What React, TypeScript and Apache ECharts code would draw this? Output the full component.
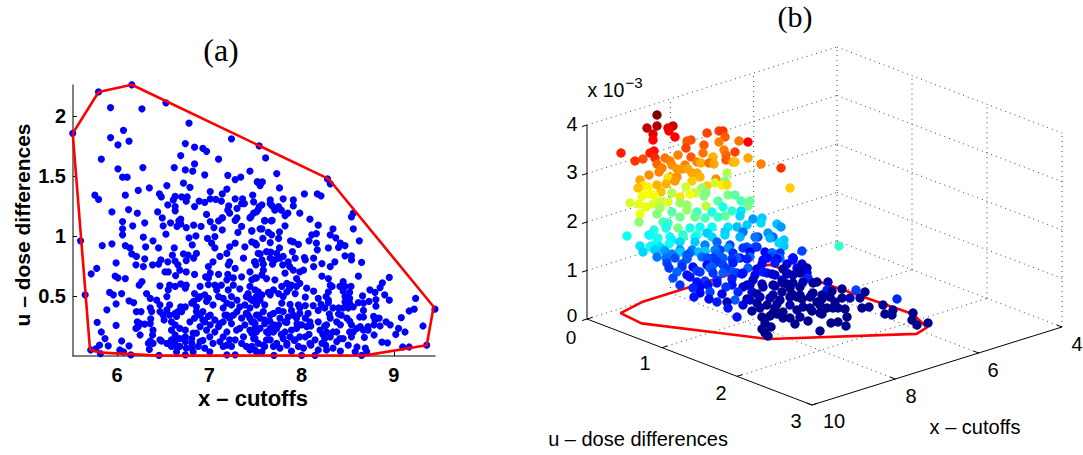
import React, { useEffect, useRef } from "react";
import * as echarts from "echarts";

// Panel (a): x - cutoffs, u - dose differences
const hullA: number[][] = [[5.52,1.855],[5.8,2.2],[6.16,2.26],[8.28,1.48],[8.31,1.46],[9.43,0.41],[9.355,0.09],[8.69,0.005],[7,0.003],[6.46,0.003],[5.83,0.028],[5.707,0.055],[5.52,1.855]];
const scatterUpper: number[][] = [[6.16,2.26],[5.8,2.2],[5.52,1.855],[5.93,2.07],[6.27,2.06],[6.53,2.11],[6.78,1.94],[6.07,1.88],[5.93,1.82],[6.13,1.79],[6.01,1.76],[7.24,1.81],[6.74,1.77],[6.84,1.74],[6.93,1.73],[6.97,1.705],[6.69,1.67],[5.83,1.64],[7.1,1.64],[6.84,1.6],[6.62,1.57],[6.28,1.57],[6.01,1.56],[6.74,1.55],[6.82,1.54],[7.44,1.54],[6.95,1.51],[7.2,1.505],[6.06,1.49],[6.11,1.49],[7.34,1.49],[7.28,1.47],[7.52,1.45],[6.72,1.44],[6.54,1.42],[6.79,1.405],[6.35,1.4],[6.23,1.38],[7.19,1.39],[7.01,1.37],[6.46,1.35],[6.48,1.325],[6.09,1.34],[5.76,1.34],[5.8,1.305],[6.63,1.33],[6.7,1.325],[6.76,1.325],[6.61,1.3],[6.75,1.29],[6.55,1.26],[6.89,1.29],[6.95,1.28],[7.01,1.31],[7.07,1.305],[7.14,1.35],[7.13,1.29],[7.28,1.31],[7.36,1.31],[7.47,1.34],[7.48,1.285],[6.84,1.245],[6.63,1.245],[6.63,1.21],[7.21,1.25],[7.2,1.215],[7.22,1.19],[7.3,1.23],[7.35,1.27],[7.38,1.27],[7.54,1.245],[7.51,1.2],[5.945,1.2],[6.125,1.22],[6.22,1.19],[6.44,1.2],[6.49,1.15],[6.69,1.14],[6.97,1.18],[7.14,1.15],[7.3,1.15],[7.44,1.15],[7.54,1.75],[7.61,1.65],[7.73,1.52],[8.28,1.475],[8.31,1.435],[7.52,1.45],[7.575,1.45],[7.55,1.42],[7.76,1.4],[8.03,1.35],[8.17,1.35],[8.21,1.335],[7.8,1.31],[7.91,1.3],[7.91,1.25],[7.66,1.3],[7.66,1.27],[7.68,1.25],[7.57,1.26],[7.53,1.22],[7.48,1.19],[7.71,1.215],[7.75,1.245],[7.78,1.215],[7.85,1.19],[7.82,1.17],[7.98,1.19],[8.09,1.14],[7.6,1.13],[7.68,1.13],[8.56,1.19],[8.54,1.16],[7.45,1.16]];
const scatterMiddle: number[][] = [[5.605,0.96],[5.84,0.92],[5.945,0.935],[6.06,1.01],[6.06,1.06],[6.06,1.12],[6.17,1.085],[6.3,1.11],[6.5,1.085],[6.53,1.015],[6.58,1.11],[6.67,1.125],[6.65,1.08],[6.69,1.1],[6.75,1.07],[6.83,1.09],[6.91,1.08],[7.05,1.07],[7.01,1.12],[7.1,1.125],[7.14,1.15],[7.14,1.05],[7.28,1.13],[7.35,1.08],[7.31,1.03],[7.46,1.045],[7.55,1.06],[6.285,0.99],[6.39,0.96],[6.31,0.91],[6.45,0.9],[6.09,0.92],[6.14,0.9],[6.16,0.85],[6.21,0.83],[6.855,1],[6.78,0.985],[6.815,0.925],[6.98,0.98],[7.06,0.995],[7.025,0.94],[7.06,0.9],[7.22,0.91],[7.28,0.94],[7.385,0.91],[7.46,0.95],[7.51,0.925],[6.62,0.9],[6.6,0.84],[6.72,0.85],[6.77,0.84],[6.86,0.855],[6.83,0.815],[6.3,0.81],[5.99,0.775],[5.78,0.73],[5.72,0.685],[6.205,0.76],[6.285,0.745],[6.385,0.76],[6.45,0.765],[6.475,0.8],[6.55,0.785],[6.63,0.79],[6.66,0.76],[6.68,0.715],[6.75,0.795],[6.99,0.745],[7.04,0.785],[7.115,0.83],[7.19,0.855],[7.22,0.785],[7.205,0.76],[7.28,0.73],[7.37,0.815],[7.495,0.785],[5.98,0.665],[6.01,0.65],[6.09,0.645],[6.52,0.7],[6.555,0.7],[6.635,0.67],[6.75,0.7],[6.84,0.68],[6.96,0.66],[7.01,0.69],[6.99,0.65],[7.1,0.68],[7.2,0.68],[7.19,0.635],[7.26,0.65],[7.35,0.66],[7.46,0.635],[7.51,0.65],[6.27,0.62],[6.24,0.59],[6.465,0.585],[6.57,0.59],[6.63,0.58],[6.69,0.6],[6.75,0.59],[6.9,0.58],[6.99,0.595],[7.06,0.59],[7.13,0.59],[7.26,0.59],[7.33,0.56],[7.44,0.58],[5.655,0.51],[5.92,0.53],[5.96,0.51],[6.05,0.52],[5.99,0.435],[6.13,0.46],[6.18,0.445],[6.32,0.52],[6.36,0.48],[6.43,0.465],[6.555,0.55],[6.54,0.495],[6.74,0.565],[6.84,0.52],[6.95,0.51],[6.88,0.48],[6.83,0.455],[7.08,0.55],[7.1,0.495],[7.205,0.55],[7.24,0.495],[7.3,0.465],[7.4,0.495],[7.51,0.495],[7.53,0.535],[8.56,1.06],[8.625,0.96],[8.34,1.06],[8.37,0.985],[8.31,1.01],[8.18,1.09],[8.16,1.02],[8.11,1.01],[8.08,0.96],[8.16,0.94],[8.17,0.885],[8.29,0.9],[8.4,0.905],[8.42,0.94],[8.47,0.92],[7.6,1.125],[7.67,1.125],[7.82,1.085],[7.57,1.06],[7.76,1.035],[7.64,1.03],[7.675,1.01],[7.46,1.04],[7.58,0.98],[7.75,0.98],[7.88,0.96],[7.965,0.93],[7.495,0.94],[7.66,0.945],[7.76,0.9],[7.9,0.87],[7.665,0.865],[7.55,0.85],[7.8,0.83],[7.93,0.815],[8.03,0.82],[8.13,0.815],[8.47,0.835],[8.54,0.835],[8.54,0.8],[7.49,0.785],[7.585,0.765],[7.685,0.765],[7.795,0.76],[7.87,0.745],[8.04,0.8],[8.13,0.745],[8.22,0.77],[8.36,0.785],[8.31,0.745],[8.65,0.78],[7.585,0.715],[7.98,0.7],[8.02,0.715],[7.57,0.675],[7.495,0.65],[7.62,0.645],[7.71,0.635],[7.945,0.645],[8.22,0.665],[8.29,0.645],[8.615,0.665],[8.95,0.655],[8.875,0.61],[8.85,0.57],[7.91,0.95],[7.53,0.855],[7.62,0.87],[7.73,0.855],[7.765,0.815],[7.71,0.8],[7.66,0.815],[7.57,0.8],[7.505,0.76],[7.44,0.7],[7.855,0.785],[7.91,0.715],[7.82,0.69]];
const scatterLower: number[][] = [[6.36,0.4],[6.465,0.425],[6.57,0.425],[6.69,0.41],[6.86,0.41],[6.97,0.455],[7.04,0.425],[7.15,0.4],[7.385,0.425],[7.44,0.4],[7.51,0.44],[5.89,0.385],[6.21,0.37],[6.26,0.37],[6.465,0.37],[6.63,0.355],[6.7,0.37],[6.93,0.37],[7.01,0.34],[7.17,0.34],[7.3,0.37],[7.42,0.34],[7.51,0.34],[5.785,0.28],[5.99,0.255],[6.22,0.285],[6.3,0.265],[6.365,0.31],[6.51,0.3],[6.59,0.285],[6.645,0.33],[6.79,0.285],[6.84,0.315],[6.95,0.285],[7.06,0.3],[7.115,0.27],[7.22,0.315],[7.33,0.23],[7.46,0.285],[7.55,0.315],[5.83,0.2],[5.87,0.145],[5.905,0.085],[6.205,0.23],[6.25,0.175],[6.39,0.215],[6.385,0.175],[6.59,0.215],[6.74,0.215],[6.825,0.19],[6.97,0.215],[7.06,0.2],[7.19,0.2],[7.295,0.215],[7.44,0.215],[7.51,0.2],[6.05,0.125],[6.13,0.085],[5.81,0.09],[5.77,0.06],[5.715,0.05],[5.82,0.02],[6.03,0.05],[6.07,0.035],[6.15,0.01],[6.34,0.105],[6.35,0.055],[6.48,0.125],[6.54,0.105],[6.455,0.005],[6.63,0.125],[6.68,0.145],[6.645,0.08],[6.74,0.12],[6.81,0.105],[6.9,0.12],[6.95,0.065],[7.04,0.105],[7.15,0.08],[7.28,0.135],[7.35,0.105],[7.46,0.08],[7.53,0.105],[6.74,0.01],[6.645,0.035],[6.825,0.035],[7.005,0.035],[7.19,0.01],[7.28,0.01],[7.44,0.05],[7.51,0.035],[7.84,0.605],[7.89,0.59],[7.98,0.605],[8.31,0.59],[8.33,0.58],[8.45,0.62],[7.785,0.58],[7.695,0.55],[7.64,0.53],[7.57,0.51],[8.055,0.565],[8.13,0.54],[8.29,0.535],[8.265,0.495],[8.415,0.58],[8.47,0.58],[8.535,0.58],[8.45,0.54],[8.52,0.53],[8.47,0.495],[8.52,0.48],[8.74,0.55],[8.795,0.53],[8.9,0.51],[8.95,0.465],[9.235,0.48],[8.66,0.5],[8.73,0.455],[8.805,0.47],[8.805,0.415],[7.48,0.46],[7.8,0.495],[7.93,0.52],[8.04,0.49],[8.18,0.48],[8.21,0.43],[8.29,0.445],[8.615,0.445],[8.56,0.41],[8.67,0.38],[8.45,0.4],[8.505,0.4],[9.445,0.39],[9.22,0.39],[9.165,0.375],[7.51,0.425],[7.585,0.37],[7.695,0.355],[7.785,0.44],[7.875,0.43],[7.965,0.425],[8.04,0.42],[8.125,0.42],[8.18,0.38],[8.3,0.35],[8.4,0.35],[9.08,0.32],[8.63,0.325],[7.48,0.285],[7.655,0.29],[7.765,0.315],[7.91,0.34],[8.04,0.315],[8.18,0.285],[8.31,0.315],[8.52,0.29],[8.67,0.325],[8.795,0.3],[8.84,0.315],[8.915,0.285],[8.85,0.25],[8.785,0.26],[8.96,0.26],[9.05,0.23],[9.12,0.2],[9.02,0.18],[9.315,0.25],[7.55,0.23],[7.73,0.23],[7.89,0.215],[8.055,0.245],[8.2,0.215],[8.38,0.2],[8.56,0.2],[8.67,0.215],[8.72,0.215],[8.785,0.175],[8.635,0.245],[7.48,0.145],[7.62,0.135],[7.8,0.145],[7.98,0.16],[8.145,0.135],[8.31,0.16],[8.45,0.145],[8.54,0.16],[8.68,0.155],[8.87,0.115],[8.93,0.11],[8.505,0.09],[8.6,0.075],[8.69,0.065],[9.355,0.09],[9.095,0.075],[9.165,0.075],[7.495,0.05],[7.57,0.035],[7.695,0.08],[7.765,0.065],[7.89,0.04],[8.02,0.065],[8.18,0.05],[8.34,0.065],[8.58,0.035],[8.705,0.035],[7.7,0.005],[8,0.005],[8.145,0.005],[8.65,0.005],[7.6,0.3],[7.7,0.26],[7.84,0.28],[7.95,0.27],[8.1,0.25],[8.25,0.25],[8.42,0.26],[7.62,0.2],[7.78,0.18],[7.92,0.13],[8.08,0.18],[8.23,0.18],[8.38,0.12],[7.6,0.08],[7.84,0.09],[8.1,0.09],[8.26,0.09],[8.42,0.04]];
const scatterDense: number[][] = [[6.57,0.34],[6.63,0.26],[6.68,0.23],[6.63,0.175],[6.59,0.135],[6.74,0.16],[6.81,0.145],[6.86,0.19],[6.9,0.245],[6.93,0.3],[6.99,0.33],[6.86,0.37],[6.9,0.34],[7.01,0.26],[7.1,0.245],[7.15,0.285],[7.19,0.34],[7.24,0.27],[7.26,0.34],[7.35,0.315],[7.385,0.26],[7.4,0.355],[7.495,0.27],[7.46,0.19],[7.37,0.16],[7.22,0.135],[7.15,0.16],[7.115,0.12],[7.005,0.16],[6.93,0.13],[6.88,0.08],[6.68,0.08],[6.75,0.065],[6.81,0.065],[6.59,0.08],[6.36,0.125],[6.39,0.105],[6.465,0.135],[7.19,0.09],[7.24,0.08],[7.4,0.08],[7.495,0.145],[6.25,0.27],[6.23,0.245],[6.36,0.27],[6.375,0.37],[6.5,0.34],[6.54,0.385],[6.66,0.37],[6.74,0.41],[6.81,0.44],[6.9,0.495],[6.99,0.48],[7.15,0.48],[7.19,0.44],[7.24,0.425],[7.33,0.41],[7.46,0.465],[7.42,0.52],[7.44,0.315],[7.53,0.34],[7.495,0.23],[7.6,0.27],[7.66,0.23],[7.695,0.2],[7.64,0.19],[7.75,0.26],[7.82,0.285],[7.855,0.325],[7.945,0.315],[7.98,0.355],[8.07,0.355],[8.09,0.285],[8,0.26],[7.945,0.23],[7.82,0.2],[7.875,0.16],[7.93,0.135],[8.04,0.16],[8.09,0.105],[8.22,0.105],[8.27,0.2],[8.34,0.2],[8.27,0.26],[8.38,0.285],[8.43,0.34],[8.49,0.315],[8.54,0.26],[8.6,0.23],[8.52,0.2],[8.415,0.145],[8.25,0.145],[7.66,0.135],[7.73,0.105],[7.585,0.09],[7.84,0.105],[7.965,0.08],[8.27,0.05],[7.55,0.465],[7.6,0.425],[7.66,0.34],[7.75,0.38],[7.8,0.37],[7.89,0.38],[7.98,0.4],[8.25,0.4],[8.34,0.4],[8.4,0.4],[8.29,0.465],[8.47,0.45],[8.52,0.44],[8.67,0.44],[8.78,0.33],[8.72,0.245],[7.87,0.565],[7.945,0.58],[7.84,0.535],[7.75,0.52],[7.66,0.51],[7.495,0.55],[7.44,0.48]];

// Panel (b): view-plane position of each point (across, up) and its height z (x 10^-3)
const cloudHigh: number[][] = [[70,204,4],[60,191,3.75],[70,193,3.8],[86,193,3.7],[81,191,3.6],[82,188,3.55],[66,185,3.6],[66,179,3.5],[88,182,3.5],[34,166,3.4],[48,158,3.3],[56,160,3.2],[63,166,3.4],[67,168,3.45],[68,161,3.35],[70,155,3.1],[120,186,3.25],[132,188,3.25],[136,188,3.3],[138,182,3.15],[132,177,3],[104,179,3.2],[100,178,3.15],[117,174,3.15],[99,171,3.25],[152,178,3.05],[161,177,3.5],[148,167,3.25],[137,169,3],[139,164,3.1],[139,159,3.15],[91,164,3],[104,162,3.15],[116,166,3.05],[126,162,2.8],[161,161,2.85],[146,157,2.85],[148,157,2.75],[174,155,3],[194,151,3.3],[203,131,2.7],[78,161,3.05],[83,158,3],[85,154,2.95],[110,157,3],[114,156,2.8],[122,156,3.05],[127,155,2.85],[98,154,3],[75,151,3],[72,147,3],[90,150,2.9],[95,150,2.9],[101,150,2.85],[110,146,2.85],[105,146,2.85],[62,144,2.95],[140,146,2.2],[83,142,2.85],[90,142,2.95],[113,142,2.8],[53,139,2.85],[81,141,2.6],[88,138,2.9],[105,138,2.7],[129,140,2.95],[138,138,2],[56,133,2.6],[51,131,2.75],[61,132,2.55],[70,134,2.8],[79,135,2.8],[99,132,2.3],[120,133,2.7],[128,136,2.3],[135,134,2.55],[140,134,2.65]];
const cloudMid: number[][] = [[55,123,2.45],[61,125,2.5],[67,124,2.45],[74,127,2.75],[85,126,2.2],[93,122,2.6],[103,125,2.45],[108,126,2.3],[115,131,2.1],[119,126,2],[117,123,2],[43,116,2.35],[52,115,2.4],[59,112,2.4],[66,115,2.35],[73,117,2.3],[81,117,2.35],[93,116,2.1],[100,114,2.1],[119,113,2.25],[131,118,1.85],[141,124,2],[148,124,1.85],[154,118,1.8],[163,118,1.9],[161,113,1.95],[53,105,2.45],[52,97,2.05],[70,105,2],[73,111,2.15],[85,107,1.85],[100,109,2.1],[110,107,1.75],[125,107,1.6],[136,112,1.6],[145,108,1.7],[154,108,1.4],[40,83,1.55],[62,84,1.45],[76,97,1.8],[91,91,2],[81,96,1.7],[93,102,1.95],[108,102,1.9],[118,101,1.8],[131,102,1.7],[138,103,1.9],[153,103,1.35],[166,100,1.1],[175,101,1.3],[174,96,1.35],[190,95,1.25],[194,92,1.1],[160,94,1.3],[67,89,1.65],[79,91,1.6],[103,91,1.6],[113,92,1.55],[125,92,1.55],[141,92,1.4],[150,92,1.25],[71,81,1.6],[83,82,1.55],[96,84,1.55],[110,84,1.7],[125,82,1.35],[138,87,1.3],[156,87,0.95],[171,82,0.8],[181,86,1.1],[186,82,0.9],[197,79,1.3],[192,76,1.35],[53,73,1.4],[56,67,1.35],[64,73,1.5],[73,72,1.4],[82,75,1.55],[93,77,1.35],[108,77,1.3],[118,74,1],[130,77,0.9],[143,74,0.8],[160,72,0.8],[168,72,0.85],[197,73,1.3],[215,68,0.75],[68,69,1.3],[78,68,1.1],[93,67,1.3],[105,69,1],[118,67,1.3],[133,69,0.75],[146,66,0.65],[163,67,0.5],[178,67,0.5],[185,66,0.75],[193,66,0.7],[252,73,1.7],[63,84,1.5],[70,77,1.55],[63,72,1.55],[68,71,1.45],[76,69,1.3],[85,79,1.45],[96,82,1.7],[108,82,1.5],[120,86,1.3],[138,84,1.35],[153,82,1.2],[168,82,0.95],[183,81,1.2],[195,77,1.3],[93,69,1.05],[103,66,0.9],[111,67,1.25],[118,68,1.25],[128,69,1],[141,71,1.1],[156,71,0.7],[170,72,0.7],[185,66,0.9],[193,61,0.9]];
const cloudLow: number[][] = [[79,61,0.95],[100,64,0.8],[126,61,0.7],[153,61,0.5],[180,61,0.5],[206,61,0.45],[80,56,0.75],[82,51,0.7],[90,47,0.9],[86,41,0.8],[93,34,0.7],[103,42,0.55],[106,52,0.55],[113,47,0.7],[110,37,0.55],[106,31,0.65],[113,26,0.5],[107,22,0.55],[123,27,0.75],[130,17,0.6],[139,32,0.7],[136,46,0.85],[130,57,0.7],[146,56,0.6],[150,46,0.75],[151,27,0.65],[148,19,0.85],[140,17,0.2],[141,11,0.55],[150,2,0.55],[156,14,0.4],[165,27,0.35],[166,39,0.3],[161,51,0.85],[176,47,0.6],[188,56,0.6],[196,50,0.1],[206,59,0.55],[185,62,0.75],[195,39,0.3],[206,44,0.2],[220,46,0.35],[221,41,0.65],[230,37,0.05],[241,37,0.2],[240,29,0.6],[255,30,0.05],[269,29,0.75],[278,27,0.05],[273,21,0.1],[282,12,0.1],[275,11,0.05],[310,20,0.65],[296,14,0.05],[298,5,0.05],[306,9,0.1],[305,4,0.05],[326,6,0.05],[325,-1,0.05],[330,-6,0.05],[341,-4,0.05],[255,21,0.05],[263,21,0.2],[248,17,0.05],[251,11,0.1],[240,11,0.05],[230,17,0.1],[223,22,0.1],[213,32,0.1],[210,22,0.1],[203,31,0.1],[195,27,0.1],[183,21,0.2],[173,11,0.15],[188,11,0.1],[203,14,0.2],[216,12,0.1],[233,6,0.05],[213,2,0.1],[203,1,0.05],[196,1,0.05],[221,-2,0.05],[183,3,0.05],[178,-4,0.05],[184,-8,0.05],[175,-10,0.05],[178,-14,0.05],[181,-17,0.05],[208,-5,0.05],[233,-12,0.05],[244,-4,0.05],[259,-7,0.05],[251,-3,0.05],[260,2,0.05],[120,54,0.55],[126,46,0.7],[70,62,0.95],[85,65,1],[100,60,0.85],[115,62,0.9],[130,65,0.9],[145,60,0.7],[160,60,0.6],[175,55,0.5],[190,60,0.45],[200,55,0.4],[215,55,0.3],[95,55,0.8],[110,48,0.75],[125,52,0.85],[140,50,0.7],[155,45,0.55],[170,50,0.4],[185,45,0.35],[200,45,0.25],[212,50,0.2],[118,38,0.7],[130,36,0.55],[145,40,0.6],[160,34,0.3],[175,35,0.2],[188,33,0.15],[200,35,0.1],[122,20,0.5],[135,25,0.4],[160,20,0.2],[170,25,0.1],[190,15,0.1],[205,25,0.05],[225,25,0.05],[235,20,0.05],[245,28,0.05],[225,8,0.05],[190,5,0.05],[165,8,0.1],[175,2,0.05],[215,20,0.05],[235,5,0.05],[258,10,0.05],[206,61,0.55],[88,61,0.8],[100,61,0.9],[120,61,0.8],[136,61,0.85],[150,61,0.85],[163,62,0.9],[176,59,0.55],[95,52,0.7],[123,51,0.85],[136,54,0.75],[146,47,0.8],[156,46,0.6],[168,44,0.5],[180,46,0.55],[188,44,0.3],[200,46,0.2],[213,46,0.15],[220,51,0.2],[210,51,0.4],[226,36,0.1],[216,37,0.2],[206,36,0.15],[196,36,0.1],[186,34,0.15],[176,32,0.2],[163,34,0.3],[156,32,0.3],[145,34,0.55],[130,39,0.7],[121,34,0.55],[113,32,0.5],[100,44,0.55],[186,24,0.1],[173,22,0.2],[163,19,0.3],[170,16,0.1],[180,14,0.05],[193,19,0.1],[203,22,0.05],[213,24,0.05],[226,26,0.05],[235,24,0.05],[243,22,0.1],[246,11,0.05],[233,14,0.05],[223,11,0.05],[210,9,0.05],[196,7,0.05],[186,6,0.05]];

const xTicksA = [6, 7, 8, 9];
const uTicksA = [0.5, 1, 1.5, 2];
const xTicksB = [4, 6, 8, 10];
const uTicksB = [0, 1, 2, 3];
const zTicksB = [0, 1, 2, 3, 4];

const project = (x: number, u: number, z: number) => [
  (u / 3) * 225 + ((10 - x) / 6) * 250,
  -(u / 3) * 86 + ((10 - x) / 6) * 78 + (z / 4) * 194,
];

const jetStops = [[0,0,128],[0,0,255],[0,128,255],[0,255,255],[128,255,128],[255,255,0],[255,128,0],[255,0,0],[128,0,0]];
const jet = (z: number) => {
  const t = Math.min(0.9999, Math.max(0, z / 4)) * 8;
  const i = Math.floor(t);
  const f = t - i;
  const c = jetStops[i].map((a, k) => Math.round(a + (jetStops[i + 1][k] - a) * f));
  return `rgb(${c[0]},${c[1]},${c[2]})`;
};

const SANS = "'Liberation Sans', Arial, sans-serif";
const SERIF = "'Liberation Serif', serif";

const seg = (pts: number[][], color: string, type: any, width = 1) => ({
  type: "line",
  xAxisIndex: 1,
  yAxisIndex: 1,
  data: pts,
  silent: true,
  symbol: "none",
  z: 1,
  lineStyle: { color, type, width },
});

const lineSeries = () => {
  const out: any[] = [];
  const dots = (a: number[], b: number[]) =>
    out.push(seg([project(a[0], a[1], a[2]), project(b[0], b[1], b[2])], "#444", [1, 4]));
  // floor grid
  [1, 2].forEach((u) => dots([10, u, 0], [4, u, 0]));
  [8, 6].forEach((x) => dots([x, 3, 0], [x, 0, 0]));
  dots([10, 0, 0], [4, 0, 0]);
  dots([4, 0, 0], [4, 3, 0]);
  // back walls
  [1, 2, 3, 4].forEach((z) => {
    dots([10, 0, z], [4, 0, z]);
    dots([4, 0, z], [4, 3, z]);
  });
  [8, 6, 4].forEach((x) => dots([x, 0, 0], [x, 0, 4]));
  [1, 2, 3].forEach((u) => dots([4, u, 0], [4, u, 4]));
  // solid axes
  const solid = (a: number[], b: number[]) =>
    out.push(seg([project(a[0], a[1], a[2]), project(b[0], b[1], b[2])], "#000", "solid"));
  solid([10, 0, 0], [10, 0, 4]);
  solid([10, 0, 0], [10, 3, 0]);
  solid([10, 3, 0], [4, 3, 0]);
  zTicksB.forEach((z) => solid([10, 0, z], [10.12, 0, z]));
  uTicksB.forEach((u) => solid([10, u, 0], [9.87, u, 0]));
  xTicksB.forEach((x) => solid([x, 3, 0], [x, 2.93, 0]));
  return out;
};

const gtext = (text: string, x: number, y: number, fontSize: number, font: string, extra: any = {}) => ({
  type: "text",
  x,
  y,
  silent: true,
  style: { text, fontSize, fontFamily: font, fill: "#000", textAlign: "center", textVerticalAlign: "middle", ...extra },
});

export default function App() {
  const ref = useRef<HTMLDivElement>(null);
  useEffect(() => {
    const chart = echarts.init(ref.current!, null, { renderer: "svg" });
    const hullB = hullA.map((p) => project(p[0], p[1], 0));
    const cloud = [...cloudHigh, ...cloudMid, ...cloudLow].sort((a, b) => b[1] - a[1]);
    const axisLine = { lineStyle: { color: "#555", width: 1.5 } };
    const boldLabel = { color: "#000", fontWeight: "bold", fontSize: 20, fontFamily: SANS };
    chart.setOption({
      animation: false,
      backgroundColor: "#fff",
      grid: [
        { left: 73, top: 85, width: 362, height: 271 },
        { left: 540, top: 0, width: 543, height: 455 },
      ],
      xAxis: [
        {
          gridIndex: 0, type: "value", min: 5.523, max: 9.445, splitLine: { show: false }, axisLine,
          axisTick: { customValues: xTicksA, inside: true, length: 4, lineStyle: { color: "#000" } },
          axisLabel: { customValues: xTicksA, margin: 9, ...boldLabel },
        },
        { gridIndex: 1, type: "value", min: -47, max: 496, show: false },
      ],
      yAxis: [
        {
          gridIndex: 0, type: "value", min: 0, max: 2.258, splitLine: { show: false }, axisLine,
          axisTick: { customValues: uTicksA, inside: true, length: 4, lineStyle: { color: "#000" } },
          axisLabel: { customValues: uTicksA, margin: 7, ...boldLabel },
        },
        { gridIndex: 1, type: "value", min: -136, max: 319, show: false },
      ],
      series: [
        {
          type: "scatter", xAxisIndex: 0, yAxisIndex: 0, clip: false, silent: true, z: 2,
          data: [...scatterUpper, ...scatterMiddle, ...scatterLower, ...scatterDense],
          symbolSize: 7.2, itemStyle: { color: "#0000ff", opacity: 1 },
        },
        {
          type: "line", xAxisIndex: 0, yAxisIndex: 0, clip: false, silent: true, z: 3, data: hullA,
          symbol: "none", lineStyle: { color: "#ff0000", width: 2.6 },
        },
        ...lineSeries(),
        {
          type: "line", xAxisIndex: 1, yAxisIndex: 1, clip: false, silent: true, z: 2, data: hullB,
          symbol: "none", lineStyle: { color: "#ff0000", width: 2.6 },
        },
        {
          type: "scatter", xAxisIndex: 1, yAxisIndex: 1, clip: false, silent: true, z: 3, data: cloud,
          symbolSize: 9.4, itemStyle: { color: (p: any) => jet(p.value[2]), opacity: 1 },
        },
      ],
      graphic: [
        gtext("(a)", 221, 50, 32, SERIF),
        gtext("(b)", 795, 16, 30, SERIF),
        gtext("x \u2013 cutoffs", 253, 398, 22, SANS, { fontWeight: "bold" }),
        { ...gtext("u \u2013 dose differences", 22, 225, 21, SANS, { fontWeight: "bold" }), rotation: Math.PI / 2 },
        gtext("x 10", 606, 90, 19.5, SANS),
        gtext("\u22123", 634, 82, 15, SANS),
        gtext("4", 572, 124, 20, SANS),
        gtext("3", 572, 172, 20, SANS),
        gtext("2", 572, 221, 20, SANS),
        gtext("1", 572, 270, 20, SANS),
        gtext("0", 572, 315, 19, SANS),
        gtext("0", 571, 337, 19, SANS),
        gtext("1", 645, 363, 20, SANS),
        gtext("2", 721, 393, 20, SANS),
        gtext("3", 796, 421, 20, SANS),
        gtext("10", 834, 421, 20, SANS),
        gtext("8", 911, 396, 20, SANS),
        gtext("6", 993, 370, 20, SANS),
        gtext("4", 1077, 344, 20, SANS),
        gtext("u \u2013 dose differences", 638, 439, 20, SANS),
        gtext("x \u2013 cutoffs", 975, 427, 20, SANS),
      ],
    });
    return () => chart.dispose();
  }, []);
  return <div ref={ref} style={{ position: "fixed", left: 0, top: 0, width: 1083, height: 455 }} />;
}
